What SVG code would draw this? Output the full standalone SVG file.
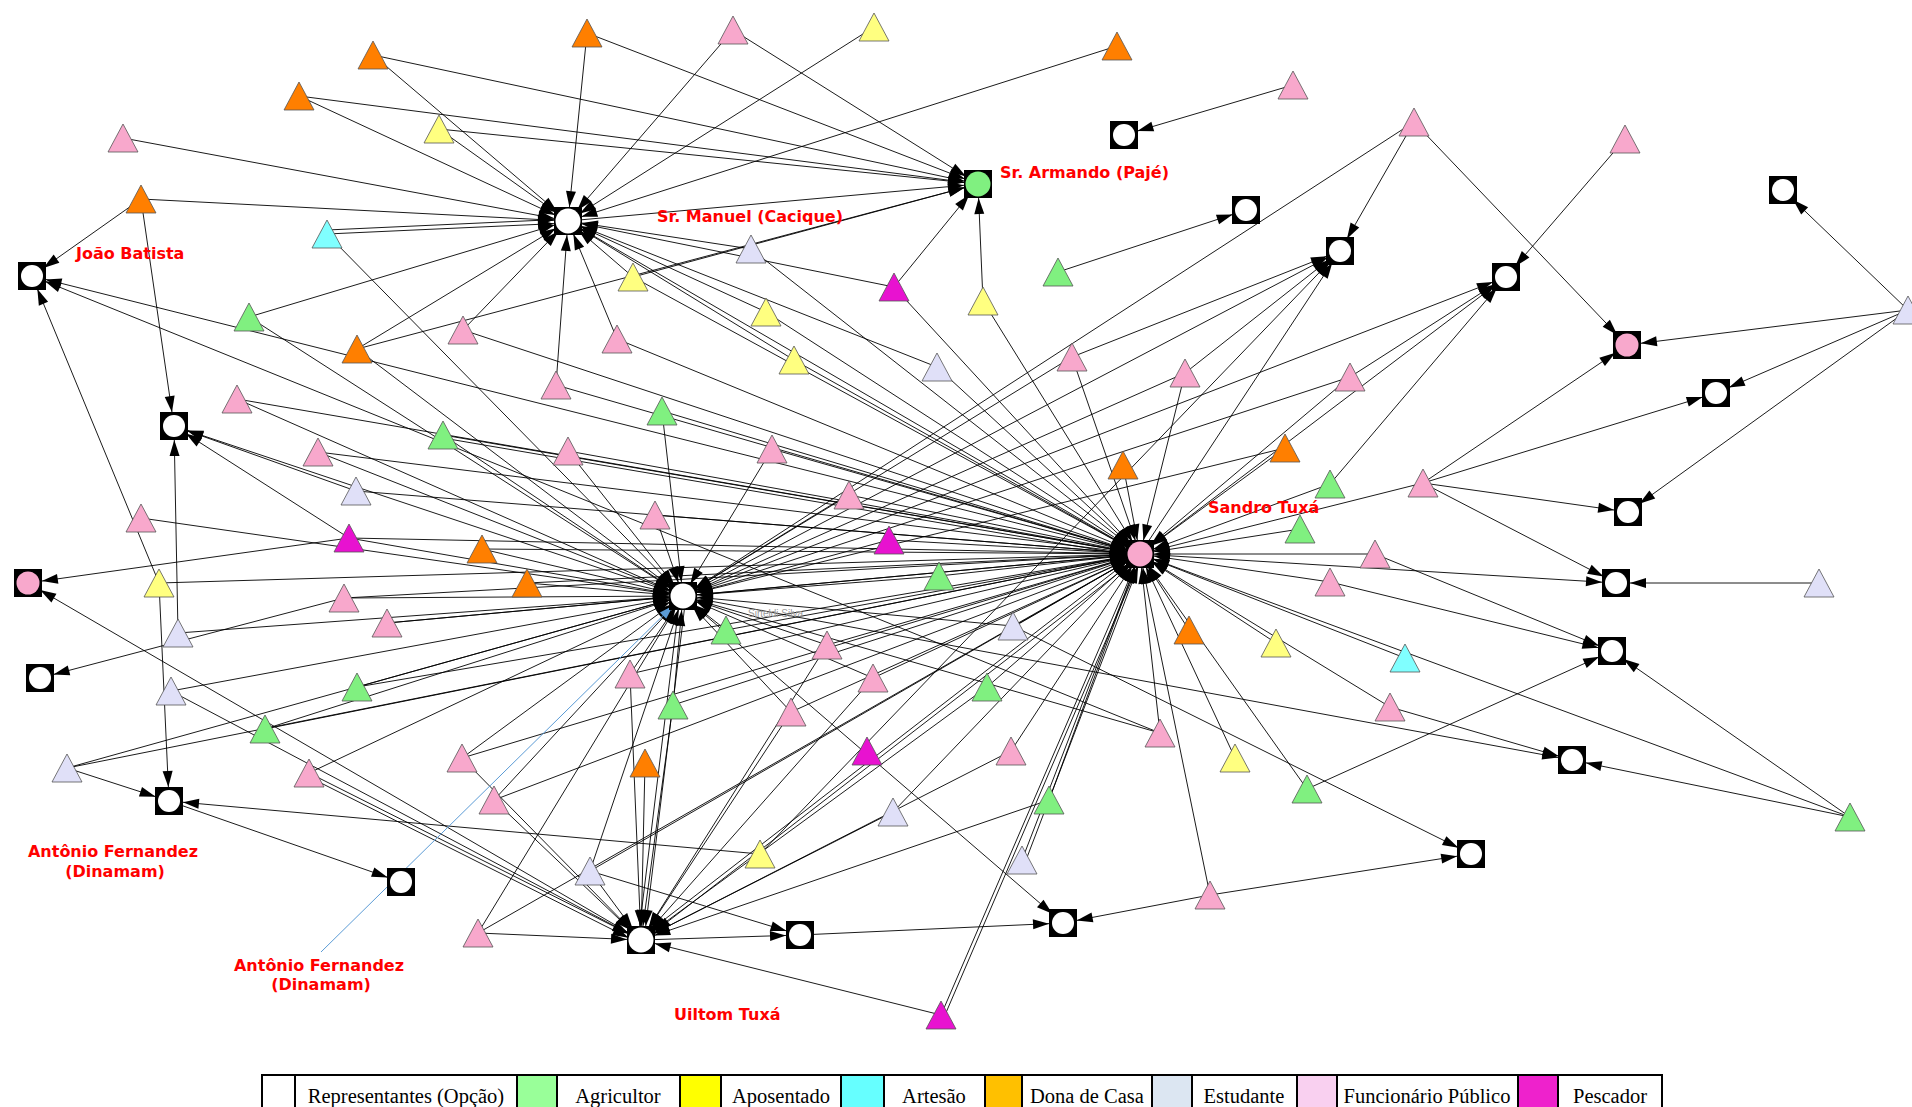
<svg xmlns="http://www.w3.org/2000/svg" width="1912" height="1107" viewBox="0 0 1912 1107">
<defs>
<style>
.t{stroke:#555;stroke-width:0.8}
.pk{fill:#F8A8CC}.or{fill:#FF7F00}.ye{fill:#FFFF80}.gr{fill:#80F080}.cy{fill:#80FFFF}.lv{fill:#E0E0F8}.mg{fill:#E812D0}
.sq{fill:#000}.ci{fill:#fff}
.lbl{font-family:"DejaVu Sans",Verdana,sans-serif;font-weight:bold;font-size:16px;fill:#FF0000}
.lg{font-family:"Liberation Serif","Times New Roman",serif;font-size:20.5px;fill:#000;text-anchor:middle}
.cell{stroke:#000;stroke-width:2}
#connectors line{stroke:#000;stroke-width:0.9;marker-end:url(#arr)}
</style>
<marker id="arr" markerUnits="userSpaceOnUse" markerWidth="32" markerHeight="12" viewBox="0 0 32 12" refX="32" refY="6" orient="auto"><path d="M2,1 L18,6 L2,11 z" fill="#000"/></marker>
<marker id="barr" markerUnits="userSpaceOnUse" markerWidth="32" markerHeight="12" viewBox="0 0 32 12" refX="32" refY="6" orient="auto"><path d="M4,1.5 L18,6 L4,10.5 z" fill="#5B9BD5"/></marker>
<polygon id="tri" points="0,-14 -15,14 15,14"/>
</defs>
<rect width="1912" height="1107" fill="#fff"/>
<g id="connectors">
<line x1="373" y1="55" x2="568" y2="221"/>
<line x1="587" y1="33" x2="568" y2="221"/>
<line x1="733" y1="30" x2="568" y2="221"/>
<line x1="874" y1="27" x2="568" y2="221"/>
<line x1="1117" y1="46" x2="568" y2="221"/>
<line x1="299" y1="96" x2="568" y2="221"/>
<line x1="439" y1="129" x2="568" y2="221"/>
<line x1="123" y1="138" x2="568" y2="221"/>
<line x1="141" y1="199" x2="568" y2="221"/>
<line x1="327" y1="234" x2="568" y2="223"/>
<line x1="327" y1="230" x2="568" y2="219"/>
<line x1="249" y1="317" x2="568" y2="221"/>
<line x1="463" y1="330" x2="568" y2="221"/>
<line x1="357" y1="349" x2="568" y2="221"/>
<line x1="617" y1="339" x2="568" y2="221"/>
<line x1="556" y1="385" x2="568" y2="221"/>
<line x1="751" y1="249" x2="568" y2="221"/>
<line x1="633" y1="277" x2="568" y2="221"/>
<line x1="894" y1="287" x2="568" y2="221"/>
<line x1="766" y1="312" x2="568" y2="221"/>
<line x1="794" y1="360" x2="568" y2="221"/>
<line x1="937" y1="367" x2="568" y2="221"/>
<line x1="373" y1="55" x2="978" y2="184"/>
<line x1="587" y1="33" x2="978" y2="184"/>
<line x1="733" y1="30" x2="978" y2="184"/>
<line x1="299" y1="96" x2="978" y2="184"/>
<line x1="439" y1="129" x2="978" y2="184"/>
<line x1="357" y1="349" x2="978" y2="184"/>
<line x1="633" y1="277" x2="978" y2="184"/>
<line x1="894" y1="287" x2="978" y2="184"/>
<line x1="983" y1="301" x2="978" y2="184"/>
<line x1="568" y1="221" x2="978" y2="184"/>
<line x1="327" y1="234" x2="683" y2="596"/>
<line x1="249" y1="317" x2="683" y2="596"/>
<line x1="357" y1="349" x2="683" y2="596"/>
<line x1="237" y1="399" x2="683" y2="596"/>
<line x1="443" y1="435" x2="683" y2="596"/>
<line x1="318" y1="452" x2="683" y2="596"/>
<line x1="568" y1="451" x2="683" y2="596"/>
<line x1="772" y1="449" x2="683" y2="596"/>
<line x1="662" y1="411" x2="683" y2="596"/>
<line x1="849" y1="495" x2="683" y2="596"/>
<line x1="655" y1="515" x2="683" y2="596"/>
<line x1="482" y1="549" x2="683" y2="596"/>
<line x1="889" y1="540" x2="683" y2="596"/>
<line x1="527" y1="583" x2="683" y2="596"/>
<line x1="939" y1="576" x2="683" y2="596"/>
<line x1="141" y1="518" x2="683" y2="596"/>
<line x1="349" y1="538" x2="683" y2="596"/>
<line x1="344" y1="598" x2="683" y2="596"/>
<line x1="387" y1="623" x2="683" y2="596"/>
<line x1="178" y1="633" x2="683" y2="596"/>
<line x1="726" y1="630" x2="683" y2="596"/>
<line x1="1013" y1="626" x2="683" y2="596"/>
<line x1="827" y1="645" x2="683" y2="596"/>
<line x1="630" y1="674" x2="683" y2="596"/>
<line x1="171" y1="691" x2="683" y2="596"/>
<line x1="357" y1="687" x2="683" y2="596"/>
<line x1="673" y1="705" x2="683" y2="596"/>
<line x1="265" y1="729" x2="683" y2="596"/>
<line x1="67" y1="768" x2="683" y2="596"/>
<line x1="309" y1="773" x2="683" y2="596"/>
<line x1="462" y1="758" x2="683" y2="596"/>
<line x1="494" y1="800" x2="683" y2="596"/>
<line x1="590" y1="871" x2="683" y2="596"/>
<line x1="478" y1="933" x2="683" y2="596"/>
<line x1="1414" y1="122" x2="683" y2="596"/>
<line x1="1072" y1="357" x2="683" y2="596"/>
<line x1="1350" y1="377" x2="683" y2="596"/>
<line x1="1285" y1="448" x2="683" y2="596"/>
<line x1="791" y1="712" x2="683" y2="596"/>
<line x1="873" y1="678" x2="683" y2="596"/>
<line x1="1185" y1="373" x2="683" y2="596"/>
<line x1="1160" y1="733" x2="683" y2="596"/>
<line x1="683" y1="596" x2="174" y2="426"/>
<line x1="683" y1="596" x2="1340" y2="251"/>
<line x1="683" y1="596" x2="1506" y2="277"/>
<line x1="683" y1="596" x2="1572" y2="760"/>
<line x1="683" y1="596" x2="1063" y2="923"/>
<line x1="680" y1="596" x2="638" y2="940"/>
<line x1="686" y1="596" x2="644" y2="940"/>
<line x1="683" y1="596" x2="1140" y2="554"/>
<line x1="751" y1="249" x2="1140" y2="554"/>
<line x1="633" y1="277" x2="1140" y2="554"/>
<line x1="894" y1="287" x2="1140" y2="554"/>
<line x1="983" y1="301" x2="1140" y2="554"/>
<line x1="766" y1="312" x2="1140" y2="554"/>
<line x1="463" y1="330" x2="1140" y2="554"/>
<line x1="617" y1="339" x2="1140" y2="554"/>
<line x1="794" y1="360" x2="1140" y2="554"/>
<line x1="937" y1="367" x2="1140" y2="554"/>
<line x1="1072" y1="357" x2="1140" y2="554"/>
<line x1="1185" y1="373" x2="1140" y2="554"/>
<line x1="1350" y1="377" x2="1140" y2="554"/>
<line x1="237" y1="399" x2="1140" y2="554"/>
<line x1="556" y1="385" x2="1140" y2="554"/>
<line x1="662" y1="411" x2="1140" y2="554"/>
<line x1="443" y1="435" x2="1140" y2="554"/>
<line x1="443" y1="438" x2="1140" y2="557"/>
<line x1="318" y1="452" x2="1140" y2="554"/>
<line x1="568" y1="451" x2="1140" y2="554"/>
<line x1="772" y1="449" x2="1140" y2="554"/>
<line x1="1123" y1="465" x2="1140" y2="554"/>
<line x1="1285" y1="448" x2="1140" y2="554"/>
<line x1="1330" y1="484" x2="1140" y2="554"/>
<line x1="1423" y1="483" x2="1140" y2="554"/>
<line x1="356" y1="491" x2="1140" y2="554"/>
<line x1="849" y1="495" x2="1140" y2="554"/>
<line x1="349" y1="538" x2="1140" y2="554"/>
<line x1="482" y1="549" x2="1140" y2="554"/>
<line x1="655" y1="515" x2="1140" y2="554"/>
<line x1="889" y1="540" x2="1140" y2="554"/>
<line x1="1300" y1="529" x2="1140" y2="554"/>
<line x1="1375" y1="554" x2="1140" y2="554"/>
<line x1="527" y1="583" x2="1140" y2="554"/>
<line x1="159" y1="583" x2="1140" y2="554"/>
<line x1="939" y1="576" x2="1140" y2="554"/>
<line x1="1330" y1="582" x2="1140" y2="554"/>
<line x1="344" y1="598" x2="1140" y2="554"/>
<line x1="387" y1="623" x2="1140" y2="554"/>
<line x1="726" y1="630" x2="1140" y2="554"/>
<line x1="1013" y1="626" x2="1140" y2="554"/>
<line x1="1189" y1="630" x2="1140" y2="554"/>
<line x1="1276" y1="643" x2="1140" y2="554"/>
<line x1="1405" y1="658" x2="1140" y2="554"/>
<line x1="827" y1="645" x2="1140" y2="554"/>
<line x1="630" y1="674" x2="1140" y2="554"/>
<line x1="873" y1="678" x2="1140" y2="554"/>
<line x1="357" y1="687" x2="1140" y2="554"/>
<line x1="673" y1="705" x2="1140" y2="554"/>
<line x1="987" y1="687" x2="1140" y2="554"/>
<line x1="1390" y1="707" x2="1140" y2="554"/>
<line x1="791" y1="712" x2="1140" y2="554"/>
<line x1="265" y1="729" x2="1140" y2="554"/>
<line x1="67" y1="768" x2="1140" y2="554"/>
<line x1="462" y1="758" x2="1140" y2="554"/>
<line x1="1011" y1="751" x2="1140" y2="554"/>
<line x1="1160" y1="733" x2="1140" y2="554"/>
<line x1="1235" y1="758" x2="1140" y2="554"/>
<line x1="1307" y1="789" x2="1140" y2="554"/>
<line x1="1850" y1="817" x2="1140" y2="554"/>
<line x1="494" y1="800" x2="1140" y2="554"/>
<line x1="1049" y1="800" x2="1140" y2="554"/>
<line x1="893" y1="812" x2="1140" y2="554"/>
<line x1="1022" y1="860" x2="1140" y2="554"/>
<line x1="1026" y1="860" x2="1143" y2="554"/>
<line x1="590" y1="871" x2="1140" y2="554"/>
<line x1="1210" y1="895" x2="1140" y2="554"/>
<line x1="478" y1="933" x2="1140" y2="554"/>
<line x1="941" y1="1015" x2="1140" y2="554"/>
<line x1="945" y1="1015" x2="1143" y2="554"/>
<line x1="568" y1="221" x2="1140" y2="554"/>
<line x1="1140" y1="554" x2="32" y2="276"/>
<line x1="1140" y1="554" x2="1340" y2="251"/>
<line x1="1140" y1="554" x2="1506" y2="277"/>
<line x1="1140" y1="554" x2="1616" y2="583"/>
<line x1="1137" y1="554" x2="638" y2="940"/>
<line x1="1143" y1="554" x2="644" y2="940"/>
<line x1="171" y1="691" x2="641" y2="940"/>
<line x1="309" y1="773" x2="641" y2="940"/>
<line x1="309" y1="777" x2="641" y2="944"/>
<line x1="462" y1="758" x2="641" y2="940"/>
<line x1="494" y1="800" x2="641" y2="940"/>
<line x1="590" y1="871" x2="641" y2="940"/>
<line x1="478" y1="933" x2="641" y2="940"/>
<line x1="645" y1="763" x2="641" y2="940"/>
<line x1="673" y1="705" x2="641" y2="940"/>
<line x1="630" y1="674" x2="641" y2="940"/>
<line x1="791" y1="712" x2="641" y2="940"/>
<line x1="873" y1="678" x2="641" y2="940"/>
<line x1="893" y1="812" x2="641" y2="940"/>
<line x1="1049" y1="800" x2="641" y2="940"/>
<line x1="1011" y1="751" x2="641" y2="940"/>
<line x1="987" y1="687" x2="641" y2="940"/>
<line x1="941" y1="1015" x2="641" y2="940"/>
<line x1="827" y1="645" x2="641" y2="940"/>
<line x1="641" y1="940" x2="28" y2="583"/>
<line x1="641" y1="940" x2="800" y2="935"/>
<line x1="141" y1="199" x2="32" y2="276"/>
<line x1="141" y1="199" x2="174" y2="426"/>
<line x1="159" y1="583" x2="32" y2="276"/>
<line x1="1160" y1="733" x2="32" y2="276"/>
<line x1="349" y1="538" x2="174" y2="426"/>
<line x1="356" y1="491" x2="174" y2="426"/>
<line x1="178" y1="633" x2="174" y2="426"/>
<line x1="349" y1="538" x2="28" y2="583"/>
<line x1="344" y1="598" x2="40" y2="678"/>
<line x1="159" y1="583" x2="169" y2="801"/>
<line x1="67" y1="768" x2="169" y2="801"/>
<line x1="760" y1="854" x2="169" y2="801"/>
<line x1="760" y1="854" x2="1340" y2="251"/>
<line x1="169" y1="801" x2="401" y2="882"/>
<line x1="590" y1="871" x2="800" y2="935"/>
<line x1="800" y1="935" x2="1063" y2="923"/>
<line x1="1210" y1="895" x2="1063" y2="923"/>
<line x1="1210" y1="895" x2="1471" y2="854"/>
<line x1="1013" y1="626" x2="1471" y2="854"/>
<line x1="1390" y1="707" x2="1572" y2="760"/>
<line x1="1850" y1="817" x2="1572" y2="760"/>
<line x1="1375" y1="554" x2="1612" y2="651"/>
<line x1="1330" y1="582" x2="1612" y2="651"/>
<line x1="1307" y1="789" x2="1612" y2="651"/>
<line x1="1850" y1="817" x2="1612" y2="651"/>
<line x1="1423" y1="483" x2="1616" y2="583"/>
<line x1="1819" y1="583" x2="1616" y2="583"/>
<line x1="1423" y1="483" x2="1628" y2="512"/>
<line x1="1908" y1="310" x2="1628" y2="512"/>
<line x1="1423" y1="483" x2="1716" y2="393"/>
<line x1="1908" y1="310" x2="1716" y2="393"/>
<line x1="1414" y1="122" x2="1627" y2="345"/>
<line x1="1908" y1="310" x2="1627" y2="345"/>
<line x1="1423" y1="483" x2="1627" y2="345"/>
<line x1="1625" y1="139" x2="1506" y2="277"/>
<line x1="1350" y1="377" x2="1506" y2="277"/>
<line x1="1330" y1="484" x2="1506" y2="277"/>
<line x1="1414" y1="122" x2="1340" y2="251"/>
<line x1="1072" y1="357" x2="1340" y2="251"/>
<line x1="1185" y1="373" x2="1340" y2="251"/>
<line x1="1058" y1="272" x2="1246" y2="210"/>
<line x1="1293" y1="85" x2="1124" y2="135"/>
<line x1="1908" y1="310" x2="1783" y2="190"/>
<line x1="321" y1="952" x2="683" y2="596" style="stroke:#5B9BD5;stroke-width:1;marker-end:url(#barr)"/>
</g>
<g id="nodes">
<g id="n1"><use href="#tri" x="373" y="55" class="t or"/></g>
<g id="n2"><use href="#tri" x="587" y="33" class="t or"/></g>
<g id="n3"><use href="#tri" x="733" y="30" class="t pk"/></g>
<g id="n4"><use href="#tri" x="874" y="27" class="t ye"/></g>
<g id="n5"><use href="#tri" x="1117" y="46" class="t or"/></g>
<g id="n6"><use href="#tri" x="1293" y="85" class="t pk"/></g>
<g id="n7"><use href="#tri" x="299" y="96" class="t or"/></g>
<g id="n8"><use href="#tri" x="439" y="129" class="t ye"/></g>
<g id="n9"><use href="#tri" x="123" y="138" class="t pk"/></g>
<g id="n10"><use href="#tri" x="141" y="199" class="t or"/></g>
<g id="n11"><use href="#tri" x="327" y="234" class="t cy"/></g>
<g id="n12"><use href="#tri" x="1414" y="122" class="t pk"/></g>
<g id="n13"><use href="#tri" x="1625" y="139" class="t pk"/></g>
<g id="n14"><use href="#tri" x="1908" y="310" class="t lv"/></g>
<g id="n15"><use href="#tri" x="751" y="249" class="t lv"/></g>
<g id="n16"><use href="#tri" x="633" y="277" class="t ye"/></g>
<g id="n17"><use href="#tri" x="894" y="287" class="t mg"/></g>
<g id="n18"><use href="#tri" x="983" y="301" class="t ye"/></g>
<g id="n19"><use href="#tri" x="1058" y="272" class="t gr"/></g>
<g id="n20"><use href="#tri" x="766" y="312" class="t ye"/></g>
<g id="n21"><use href="#tri" x="249" y="317" class="t gr"/></g>
<g id="n22"><use href="#tri" x="463" y="330" class="t pk"/></g>
<g id="n23"><use href="#tri" x="357" y="349" class="t or"/></g>
<g id="n24"><use href="#tri" x="617" y="339" class="t pk"/></g>
<g id="n25"><use href="#tri" x="794" y="360" class="t ye"/></g>
<g id="n26"><use href="#tri" x="937" y="367" class="t lv"/></g>
<g id="n27"><use href="#tri" x="1072" y="357" class="t pk"/></g>
<g id="n28"><use href="#tri" x="1185" y="373" class="t pk"/></g>
<g id="n29"><use href="#tri" x="1350" y="377" class="t pk"/></g>
<g id="n30"><use href="#tri" x="237" y="399" class="t pk"/></g>
<g id="n31"><use href="#tri" x="556" y="385" class="t pk"/></g>
<g id="n32"><use href="#tri" x="662" y="411" class="t gr"/></g>
<g id="n33"><use href="#tri" x="443" y="435" class="t gr"/></g>
<g id="n34"><use href="#tri" x="318" y="452" class="t pk"/></g>
<g id="n35"><use href="#tri" x="568" y="451" class="t pk"/></g>
<g id="n36"><use href="#tri" x="772" y="449" class="t pk"/></g>
<g id="n37"><use href="#tri" x="1123" y="465" class="t or"/></g>
<g id="n38"><use href="#tri" x="1285" y="448" class="t or"/></g>
<g id="n39"><use href="#tri" x="1330" y="484" class="t gr"/></g>
<g id="n40"><use href="#tri" x="1423" y="483" class="t pk"/></g>
<g id="n41"><use href="#tri" x="356" y="491" class="t lv"/></g>
<g id="n42"><use href="#tri" x="849" y="495" class="t pk"/></g>
<g id="n43"><use href="#tri" x="141" y="518" class="t pk"/></g>
<g id="n44"><use href="#tri" x="349" y="538" class="t mg"/></g>
<g id="n45"><use href="#tri" x="482" y="549" class="t or"/></g>
<g id="n46"><use href="#tri" x="655" y="515" class="t pk"/></g>
<g id="n47"><use href="#tri" x="889" y="540" class="t mg"/></g>
<g id="n48"><use href="#tri" x="1300" y="529" class="t gr"/></g>
<g id="n49"><use href="#tri" x="1375" y="554" class="t pk"/></g>
<g id="n50"><use href="#tri" x="527" y="583" class="t or"/></g>
<g id="n51"><use href="#tri" x="159" y="583" class="t ye"/></g>
<g id="n52"><use href="#tri" x="939" y="576" class="t gr"/></g>
<g id="n53"><use href="#tri" x="1330" y="582" class="t pk"/></g>
<g id="n54"><use href="#tri" x="1819" y="583" class="t lv"/></g>
<g id="n55"><use href="#tri" x="344" y="598" class="t pk"/></g>
<g id="n56"><use href="#tri" x="387" y="623" class="t pk"/></g>
<g id="n57"><use href="#tri" x="178" y="633" class="t lv"/></g>
<g id="n58"><use href="#tri" x="726" y="630" class="t gr"/></g>
<g id="n59"><use href="#tri" x="1013" y="626" class="t lv"/></g>
<g id="n60"><use href="#tri" x="1189" y="630" class="t or"/></g>
<g id="n61"><use href="#tri" x="1276" y="643" class="t ye"/></g>
<g id="n62"><use href="#tri" x="1405" y="658" class="t cy"/></g>
<g id="n63"><use href="#tri" x="827" y="645" class="t pk"/></g>
<g id="n64"><use href="#tri" x="630" y="674" class="t pk"/></g>
<g id="n65"><use href="#tri" x="873" y="678" class="t pk"/></g>
<g id="n66"><use href="#tri" x="171" y="691" class="t lv"/></g>
<g id="n67"><use href="#tri" x="357" y="687" class="t gr"/></g>
<g id="n68"><use href="#tri" x="673" y="705" class="t gr"/></g>
<g id="n69"><use href="#tri" x="987" y="687" class="t gr"/></g>
<g id="n70"><use href="#tri" x="1390" y="707" class="t pk"/></g>
<g id="n71"><use href="#tri" x="791" y="712" class="t pk"/></g>
<g id="n72"><use href="#tri" x="265" y="729" class="t gr"/></g>
<g id="n73"><use href="#tri" x="67" y="768" class="t lv"/></g>
<g id="n74"><use href="#tri" x="309" y="773" class="t pk"/></g>
<g id="n75"><use href="#tri" x="462" y="758" class="t pk"/></g>
<g id="n76"><use href="#tri" x="645" y="763" class="t or"/></g>
<g id="n77"><use href="#tri" x="867" y="751" class="t mg"/></g>
<g id="n78"><use href="#tri" x="1011" y="751" class="t pk"/></g>
<g id="n79"><use href="#tri" x="1160" y="733" class="t pk"/></g>
<g id="n80"><use href="#tri" x="1235" y="758" class="t ye"/></g>
<g id="n81"><use href="#tri" x="1307" y="789" class="t gr"/></g>
<g id="n82"><use href="#tri" x="1850" y="817" class="t gr"/></g>
<g id="n83"><use href="#tri" x="494" y="800" class="t pk"/></g>
<g id="n84"><use href="#tri" x="1049" y="800" class="t gr"/></g>
<g id="n85"><use href="#tri" x="893" y="812" class="t lv"/></g>
<g id="n86"><use href="#tri" x="760" y="854" class="t ye"/></g>
<g id="n87"><use href="#tri" x="1022" y="860" class="t lv"/></g>
<g id="n88"><use href="#tri" x="590" y="871" class="t lv"/></g>
<g id="n89"><use href="#tri" x="1210" y="895" class="t pk"/></g>
<g id="n90"><use href="#tri" x="478" y="933" class="t pk"/></g>
<g id="n91"><use href="#tri" x="941" y="1015" class="t mg"/></g>
<g id="hub_manuel"><rect x="554" y="207" width="28" height="28" class="sq"/><circle cx="568" cy="221" r="12.5" class="ci"/></g>
<g id="hub_armando"><rect x="964" y="170" width="28" height="28" class="sq"/><circle cx="978" cy="184" r="12.5" fill="#80F080"/></g>
<g id="hub_center"><rect x="669" y="582" width="28" height="28" class="sq"/><circle cx="683" cy="596" r="12.5" class="ci"/></g>
<g id="hub_sandro"><rect x="1126" y="540" width="28" height="28" class="sq"/><circle cx="1140" cy="554" r="12.5" fill="#F8A8CC"/></g>
<g id="hub_uiltom"><rect x="627" y="926" width="28" height="28" class="sq"/><circle cx="641" cy="940" r="12.5" class="ci"/></g>
<g id="s_jb"><rect x="18" y="262" width="28" height="28" class="sq"/><circle cx="32" cy="276" r="11" class="ci"/></g>
<g id="s143"><rect x="160" y="412" width="28" height="28" class="sq"/><circle cx="174" cy="426" r="11" class="ci"/></g>
<g id="pc1"><rect x="14" y="569" width="28" height="28" class="sq"/><circle cx="28" cy="583" r="11.5" fill="#F8A8CC"/></g>
<g id="s33"><rect x="26" y="664" width="28" height="28" class="sq"/><circle cx="40" cy="678" r="11" class="ci"/></g>
<g id="s138"><rect x="155" y="787" width="28" height="28" class="sq"/><circle cx="169" cy="801" r="11" class="ci"/></g>
<g id="s329"><rect x="387" y="868" width="28" height="28" class="sq"/><circle cx="401" cy="882" r="11" class="ci"/></g>
<g id="s656"><rect x="786" y="921" width="28" height="28" class="sq"/><circle cx="800" cy="935" r="11" class="ci"/></g>
<g id="s871"><rect x="1049" y="909" width="28" height="28" class="sq"/><circle cx="1063" cy="923" r="11" class="ci"/></g>
<g id="s1206"><rect x="1457" y="840" width="28" height="28" class="sq"/><circle cx="1471" cy="854" r="11" class="ci"/></g>
<g id="s1289"><rect x="1558" y="746" width="28" height="28" class="sq"/><circle cx="1572" cy="760" r="11" class="ci"/></g>
<g id="s1322"><rect x="1598" y="637" width="28" height="28" class="sq"/><circle cx="1612" cy="651" r="11" class="ci"/></g>
<g id="s1325"><rect x="1602" y="569" width="28" height="28" class="sq"/><circle cx="1616" cy="583" r="11" class="ci"/></g>
<g id="s1335"><rect x="1614" y="498" width="28" height="28" class="sq"/><circle cx="1628" cy="512" r="11" class="ci"/></g>
<g id="s1407"><rect x="1702" y="379" width="28" height="28" class="sq"/><circle cx="1716" cy="393" r="11" class="ci"/></g>
<g id="pc2"><rect x="1613" y="331" width="28" height="28" class="sq"/><circle cx="1627" cy="345" r="11.5" fill="#F8A8CC"/></g>
<g id="s1235"><rect x="1492" y="263" width="28" height="28" class="sq"/><circle cx="1506" cy="277" r="11" class="ci"/></g>
<g id="s1099"><rect x="1326" y="237" width="28" height="28" class="sq"/><circle cx="1340" cy="251" r="11" class="ci"/></g>
<g id="s1022"><rect x="1232" y="196" width="28" height="28" class="sq"/><circle cx="1246" cy="210" r="11" class="ci"/></g>
<g id="s922"><rect x="1110" y="121" width="28" height="28" class="sq"/><circle cx="1124" cy="135" r="11" class="ci"/></g>
<g id="s1462"><rect x="1769" y="176" width="28" height="28" class="sq"/><circle cx="1783" cy="190" r="11" class="ci"/></g>
</g>
<g id="labels">
<text class="lbl" x="657" y="222">Sr. Manuel (Cacique)</text>
<text class="lbl" x="1000" y="178">Sr. Armando (Pajé)</text>
<text class="lbl" x="76" y="259">João Batista</text>
<text class="lbl" x="1208" y="513">Sandro Tuxá</text>
<text class="lbl" x="674" y="1020">Uiltom Tuxá</text>
<text class="lbl" x="113" y="857" text-anchor="middle">Antônio Fernandez</text>
<text class="lbl" x="115" y="877" text-anchor="middle">(Dinamam)</text>
<text class="lbl" x="319" y="971" text-anchor="middle">Antônio Fernandez</text>
<text class="lbl" x="321" y="990" text-anchor="middle">(Dinamam)</text>
<text x="748" y="617" font-family="Liberation Sans, Arial, sans-serif" font-size="10" fill="#999">Sirteldi Silva</text>
</g>
<g id="legend">
<rect x="262" y="1075" width="1400" height="40" fill="#fff" class="cell"/>
<rect x="262" y="1075" width="33" height="40" fill="#fff" class="cell"/>
<rect x="517" y="1075" width="40" height="40" fill="#99FF99" class="cell"/>
<rect x="680" y="1075" width="41" height="40" fill="#FFFF00" class="cell"/>
<rect x="841" y="1075" width="43" height="40" fill="#66FFFF" class="cell"/>
<rect x="985" y="1075" width="37" height="40" fill="#FFC000" class="cell"/>
<rect x="1152" y="1075" width="40" height="40" fill="#DCE6F2" class="cell"/>
<rect x="1297" y="1075" width="40" height="40" fill="#F9D0F0" class="cell"/>
<rect x="1518" y="1075" width="40" height="40" fill="#EE22CC" class="cell"/>
<text class="lg" x="406" y="1103">Representantes (Opção)</text>
<text class="lg" x="618" y="1103">Agricultor</text>
<text class="lg" x="781" y="1103">Aposentado</text>
<text class="lg" x="934" y="1103">Artesão</text>
<text class="lg" x="1087" y="1103">Dona de Casa</text>
<text class="lg" x="1244" y="1103">Estudante</text>
<text class="lg" x="1427" y="1103">Funcionário Público</text>
<text class="lg" x="1610" y="1103">Pescador</text>
</g>
</svg>
